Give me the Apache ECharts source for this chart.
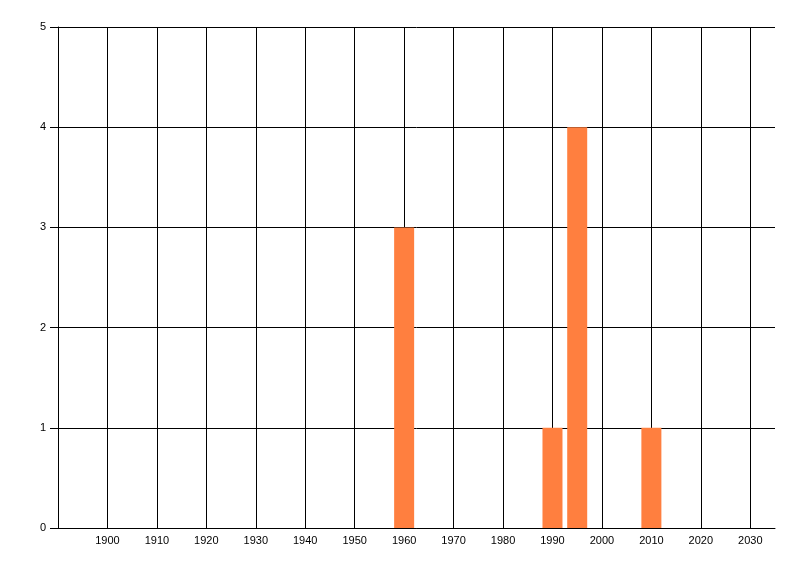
<!DOCTYPE html>
<html>
<head>
<meta charset="utf-8">
<script src="https://cdn.jsdelivr.net/npm/echarts@6/dist/echarts.min.js"></script>
<style>html,body{margin:0;padding:0;background:#fff;}#c{width:800px;height:576px;}</style>
</head>
<body>
<div id="c"></div>
<script>
var years = [1960, 1990, 1995, 2010];
var counts = [3, 1, 4, 1];
var xMin = 1890, xMax = 2035, xStep = 10;
var yMin = 0, yMax = 5, yStep = 1;

var chart = echarts.init(document.getElementById('c'), null, {renderer: 'canvas'});
var font = {fontFamily: 'Liberation Sans', fontSize: 11, color: '#000'};
chart.setOption({
  animation: false,
  backgroundColor: '#fff',
  grid: {left: 58, right: 25, top: 27, bottom: 48, containLabel: false},
  xAxis: {
    type: 'value', min: xMin, max: xMax, interval: xStep,
    axisLine: {show: true, lineStyle: {color: '#000', width: 1}},
    axisTick: {show: false},
    axisLabel: Object.assign({margin: 7, showMinLabel: false, showMaxLabel: false,
      formatter: function(v){ return (v % 10 === 0 && v > xMin) ? String(v) : ''; }}, font),
    splitLine: {show: true, showMinLine: false, showMaxLine: false, lineStyle: {color: '#000', width: 1}}
  },
  yAxis: {
    type: 'value', min: yMin, max: yMax, interval: yStep,
    axisLine: {show: true, lineStyle: {color: '#000', width: 1}},
    axisTick: {show: true, inside: false, length: 8, lineStyle: {color: '#000'}},
    axisLabel: Object.assign({margin: 12}, font),
    splitLine: {show: true, lineStyle: {color: '#000', width: 1}}
  },
  series: [{
    type: 'bar',
    barWidth: 20,
    itemStyle: {color: '#FF7F3F'},
    data: years.map(function(y, i){ return [y, counts[i]]; }),
    z: 5
  }]
});
</script>
</body>
</html>
